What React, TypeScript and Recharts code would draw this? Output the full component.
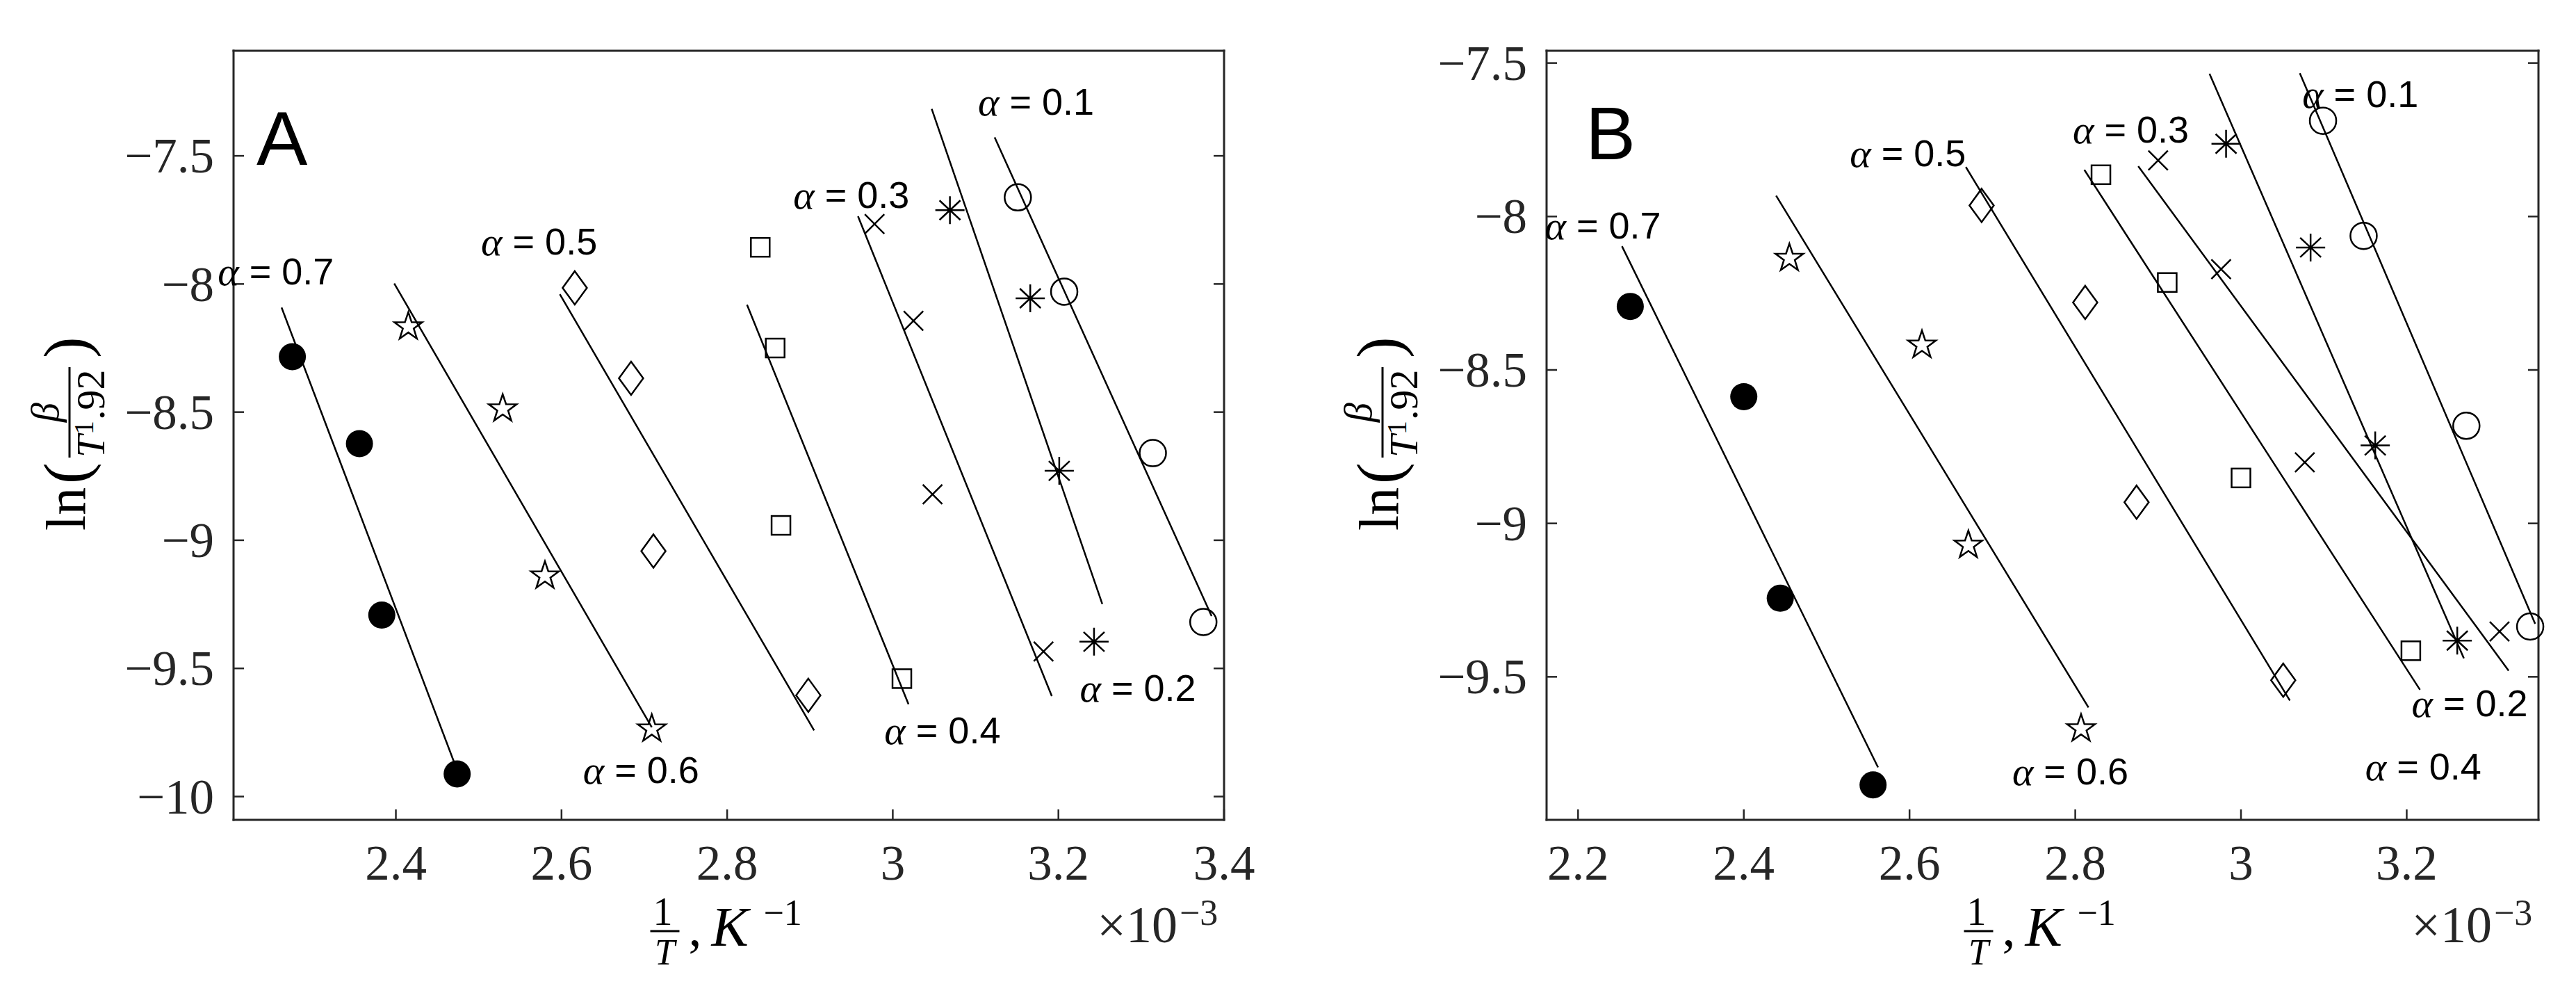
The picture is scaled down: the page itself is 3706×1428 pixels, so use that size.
import React from 'react';
import { ScatterChart, Scatter, XAxis, YAxis } from 'recharts';

const SERIF = '"Liberation Serif", "DejaVu Serif", serif';
const SANS = '"Liberation Sans", Arial, Helvetica, sans-serif';
const INK = '#000000';
const AXIS_INK = '#262626';

// one row per alpha level, same order everywhere
const alphaLabels = ['0.1', '0.2', '0.3', '0.4', '0.5', '0.6', '0.7'];
const markerKinds = ['circle', 'asterisk', 'cross', 'square', 'diamond', 'star', 'dot'];

// ---- panel A (x in 1e-3 K^-1) ----
const aXTicks = [2.4, 2.6, 2.8, 3, 3.2, 3.4];
const aYTicks = [-10, -9.5, -9, -8.5, -8, -7.5];
const aXDomain = [2.204, 3.4];
const aYDomain = [-10.091, -7.09];

const aPointX = [
  [3.151, 3.207, 3.314, 3.375],
  [3.069, 3.166, 3.201, 3.243],
  [2.978, 3.025, 3.048, 3.182],
  [2.84, 2.858, 2.865, 3.011],
  [2.616, 2.684, 2.711, 2.898],
  [2.415, 2.529, 2.58, 2.709],
  [2.275, 2.356, 2.383, 2.474],
];
const aPointY = [
  [-7.662, -8.03, -8.66, -9.319],
  [-7.712, -8.056, -8.729, -9.396],
  [-7.766, -8.144, -8.821, -9.434],
  [-7.857, -8.25, -8.942, -9.54],
  [-8.015, -8.368, -9.042, -9.605],
  [-8.167, -8.487, -9.139, -9.736],
  [-8.284, -8.623, -9.292, -9.912],
];
const aFitX = [
  [3.123, 3.385],
  [3.047, 3.253],
  [2.958, 3.192],
  [2.824, 3.019],
  [2.598, 2.905],
  [2.398, 2.709],
  [2.262, 2.471],
];
const aFitY = [
  [-7.428, -9.296],
  [-7.317, -9.249],
  [-7.736, -9.608],
  [-8.081, -9.64],
  [-8.04, -9.742],
  [-7.998, -9.73],
  [-8.092, -9.872],
];
const aLabelX = [3.173, 3.296, 2.95, 3.06, 2.573, 2.696, 2.255];
const aLabelY = [-7.289, -9.576, -7.653, -9.741, -7.834, -9.895, -7.95];

// ---- panel B ----
const bXTicks = [2.2, 2.4, 2.6, 2.8, 3, 3.2];
const bYTicks = [-9.5, -9, -8.5, -8, -7.5];
const bXDomain = [2.162, 3.359];
const bYDomain = [-9.966, -7.46];

const bPointX = [
  [3.099, 3.148, 3.272, 3.349],
  [2.982, 3.084, 3.162, 3.261],
  [2.9, 2.976, 3.077, 3.312],
  [2.831, 2.911, 3.0, 3.205],
  [2.687, 2.812, 2.874, 3.051],
  [2.455, 2.615, 2.671, 2.807],
  [2.263, 2.4, 2.444, 2.556],
];
const bPointY = [
  [-7.688, -8.063, -8.682, -9.336],
  [-7.763, -8.101, -8.746, -9.382],
  [-7.817, -8.172, -8.801, -9.352],
  [-7.864, -8.215, -8.852, -9.415],
  [-7.964, -8.28, -8.931, -9.511],
  [-8.136, -8.419, -9.071, -9.669],
  [-8.293, -8.587, -9.244, -9.852],
];
const bFitX = [
  [3.071, 3.355],
  [2.962, 3.269],
  [2.876, 3.323],
  [2.811, 3.216],
  [2.668, 3.059],
  [2.439, 2.816],
  [2.253, 2.562],
];
const bFitY = [
  [-7.533, -9.327],
  [-7.535, -9.44],
  [-7.836, -9.48],
  [-7.848, -9.542],
  [-7.839, -9.577],
  [-7.932, -9.6],
  [-8.097, -9.795],
];
const bLabelX = [3.144, 3.276, 2.867, 3.22, 2.598, 2.794, 2.23];
const bLabelY = [-7.601, -9.585, -7.715, -9.791, -7.793, -9.808, -8.029];

const zip = (xs: number[], ys: number[]) => xs.map((x, i) => ({ x, y: ys[i] }));
const fmt = (v: number) => (v < 0 ? '\u2212' + String(Math.abs(v)) : String(v));

function Marker({ cx, cy, kind }: { cx: number; cy: number; kind: string }) {
  const s = { fill: 'none', stroke: INK, strokeWidth: 2.5 };
  if (kind === 'dot') return <circle cx={cx} cy={cy} r={19.5} fill={INK} />;
  if (kind === 'circle') return <circle cx={cx} cy={cy} r={19} {...s} />;
  if (kind === 'square') return <rect x={cx - 13.5} y={cy - 13.5} width={27} height={27} {...s} />;
  if (kind === 'diamond')
    return <polygon points={`${cx},${cy - 24} ${cx + 17.5},${cy} ${cx},${cy + 24} ${cx - 17.5},${cy}`} {...s} />;
  if (kind === 'cross')
    return <path d={`M${cx - 14},${cy - 14}L${cx + 14},${cy + 14}M${cx - 14},${cy + 14}L${cx + 14},${cy - 14}`} {...s} />;
  if (kind === 'asterisk')
    return (
      <path
        d={`M${cx - 21},${cy}L${cx + 21},${cy}M${cx},${cy - 20}L${cx},${cy + 20}M${cx - 15},${cy - 14}L${cx + 15},${cy + 14}M${cx - 15},${cy + 14}L${cx + 15},${cy - 14}`}
        {...s}
      />
    );
  // pentagram
  const pts: string[] = [];
  for (let i = 0; i < 10; i++) {
    const r = i % 2 === 0 ? 21 : 8.2;
    const a = -Math.PI / 2 + (i * Math.PI) / 5;
    pts.push(`${cx + r * Math.cos(a)},${cy + r * Math.sin(a)}`);
  }
  return <polygon points={pts.join(' ')} {...s} />;
}

function AlphaText({ cx, cy, value }: { cx: number; cy: number; value: string }) {
  return (
    <text x={cx} y={cy} textAnchor="middle" dominantBaseline="central" fill={INK}>
      <tspan fontFamily={SERIF} fontStyle="italic" fontSize={58}>α</tspan>
      <tspan fontFamily={SANS} fontSize={54}>{' = ' + value}</tspan>
    </text>
  );
}

// serif tick labels (LaTeX look)
const XTick = (t: any) => (
  <text x={t.x} y={t.y} dy="0.71em" textAnchor="middle" fontFamily={SERIF} fontSize={71} fill={AXIS_INK}>
    {fmt(t.payload.value)}
  </text>
);
const YTick = (t: any) => (
  <text x={t.x} y={t.y} dy="0.34em" textAnchor="end" fontFamily={SERIF} fontSize={71} fill={AXIS_INK}>
    {fmt(t.payload.value)}
  </text>
);
const NoLabel = () => <g />;

// ln( beta / T^1.92 ), rotated
function YTitle({ cx, cy }: { cx: number; cy: number }) {
  return (
    <g transform={`translate(${cx},${cy}) rotate(-90)`} fill={INK} fontFamily={SERIF}>
      <text x={-135} y={0} fontSize={80}>ln</text>
      <text x={-68} y={4} fontSize={92}>(</text>
      <text x={35} y={-38} fontSize={56} fontStyle="italic" textAnchor="middle">β</text>
      <line x1={-30} x2={100} y1={-22} y2={-22} stroke={INK} strokeWidth={3} />
      <text x={-30} y={28} fontSize={58} fontStyle="italic">T</text>
      <text x={3} y={12} fontSize={40}>1</text>
      <text x={24} y={28} fontSize={58}>.92</text>
      <text x={113} y={4} fontSize={92}>)</text>
    </g>
  );
}

// 1/T, K^-1  and the x10^-3 multiplier
function XTitle({ c, b, r }: { c: number; b: number; r: number }) {
  return (
    <g fill={INK} fontFamily={SERIF}>
      <text x={c - 95} y={b + 151} fontSize={56} textAnchor="middle">1</text>
      <line x1={c - 113} x2={c - 71} y1={b + 160} y2={b + 160} stroke={INK} strokeWidth={3} />
      <text x={c - 92} y={b + 208} fontSize={52} fontStyle="italic" textAnchor="middle">T</text>
      <text x={c - 58} y={b + 181} fontSize={76}>,</text>
      <text x={c - 25} y={b + 181} fontSize={80} fontStyle="italic">K</text>
      <text x={c + 50} y={b + 151} fontSize={52}>{'\u22121'}</text>
      <text x={r - 67} y={b + 176} fontSize={74} textAnchor="end" fill={AXIS_INK}>×10</text>
      <text x={r - 64} y={b + 151} fontSize={52} fill={AXIS_INK}>{'\u22123'}</text>
    </g>
  );
}

type PanelProps = {
  letter: string;
  letterDx: number;
  letterDy: number;
  letterSize: number;
  width: number;
  plotLeft: number;
  plotRight: number;
  xDomain: number[];
  yDomain: number[];
  xTicks: number[];
  yTicks: number[];
  pointX: number[][];
  pointY: number[][];
  fitX: number[][];
  fitY: number[][];
  labelX: number[];
  labelY: number[];
};

const HEIGHT = 1428;
const PLOT_TOP = 73;
const PLOT_BOTTOM = 1179;
const TICK = -15;

const Panel: React.FC<PanelProps> = (p) => {
  const axisLine = { stroke: AXIS_INK, strokeWidth: 3, strokeLinecap: 'square' as const };
  const tickLine = { stroke: AXIS_INK, strokeWidth: 2.5 };
  const center = (p.plotLeft + p.plotRight) / 2;
  const midY = (PLOT_TOP + PLOT_BOTTOM) / 2 + 2;

  return (
    <ScatterChart
      width={p.width}
      height={HEIGHT}
      margin={{ top: PLOT_TOP - 1, right: p.width - p.plotRight - 1, bottom: 0, left: 0 }}
    >
      <XAxis
        xAxisId="b"
        type="number"
        dataKey="x"
        orientation="bottom"
        domain={p.xDomain}
        ticks={p.xTicks}
        interval={0}
        height={HEIGHT - PLOT_BOTTOM}
        tickSize={TICK}
        tickMargin={51}
        tick={XTick}
        axisLine={axisLine}
        tickLine={tickLine}
        label={{ content: () => <XTitle c={center} b={PLOT_BOTTOM} r={p.plotRight} /> }}
      />
      {/* mirrored top axis: frame line + inward ticks */}
      <XAxis
        xAxisId="t"
        type="number"
        orientation="top"
        domain={p.xDomain}
        allowDataOverflow
        ticks={p.xTicks}
        interval={0}
        height={1}
        tickSize={TICK}
        tick={NoLabel}
        axisLine={axisLine}
        tickLine={tickLine}
        label={{
          content: () => (
            <text
              x={p.plotLeft + p.letterDx}
              y={PLOT_TOP + p.letterDy}
              fontFamily={SANS}
              fontSize={p.letterSize}
              fill={INK}
            >
              {p.letter}
            </text>
          ),
        }}
      />
      <YAxis
        yAxisId="l"
        type="number"
        dataKey="y"
        domain={p.yDomain}
        ticks={p.yTicks}
        interval={0}
        width={p.plotLeft}
        tickSize={TICK}
        tickMargin={43}
        tick={YTick}
        axisLine={axisLine}
        tickLine={tickLine}
        label={{ content: () => <YTitle cx={p.plotLeft - 214} cy={midY} /> }}
      />
      {/* mirrored right axis */}
      <YAxis
        yAxisId="r"
        type="number"
        orientation="right"
        domain={p.yDomain}
        allowDataOverflow
        ticks={p.yTicks}
        interval={0}
        width={1}
        tickSize={TICK}
        tick={NoLabel}
        axisLine={axisLine}
        tickLine={tickLine}
      />

      {p.fitX.map((fx, i) => (
        <Scatter
          key={'fit' + i}
          xAxisId="b"
          yAxisId="l"
          data={zip(fx, p.fitY[i])}
          line={{ stroke: INK, strokeWidth: 2.5 }}
          lineType="joint"
          shape={() => <g />}
          isAnimationActive={false}
        />
      ))}

      {p.pointX.map((px, i) => (
        <Scatter
          key={'pts' + i}
          xAxisId="b"
          yAxisId="l"
          data={zip(px, p.pointY[i])}
          shape={(s: any) => <Marker cx={s.cx} cy={s.cy} kind={markerKinds[i]} />}
          isAnimationActive={false}
        />
      ))}

      {alphaLabels.map((a, i) => (
        <Scatter
          key={'lbl' + i}
          xAxisId="b"
          yAxisId="l"
          data={[{ x: p.labelX[i], y: p.labelY[i] }]}
          shape={(s: any) => <AlphaText cx={s.cx} cy={s.cy} value={a} />}
          isAnimationActive={false}
        />
      ))}
    </ScatterChart>
  );
};

export default function App() {
  return (
    <div style={{ position: 'absolute', left: 0, top: 0, width: 3706, height: HEIGHT, background: '#ffffff' }}>
      <div style={{ position: 'absolute', left: 0, top: 0 }}>
        <Panel
          letter="A"
          letterDx={33}
          letterDy={164}
          letterSize={110}
          width={1853}
          plotLeft={336}
          plotRight={1761}
          xDomain={aXDomain}
          yDomain={aYDomain}
          xTicks={aXTicks}
          yTicks={aYTicks}
          pointX={aPointX}
          pointY={aPointY}
          fitX={aFitX}
          fitY={aFitY}
          labelX={aLabelX}
          labelY={aLabelY}
        />
      </div>
      <div style={{ position: 'absolute', left: 1853, top: 0 }}>
        <Panel
          letter="B"
          letterDx={56}
          letterDy={156}
          letterSize={108}
          width={1853}
          plotLeft={372}
          plotRight={1799}
          xDomain={bXDomain}
          yDomain={bYDomain}
          xTicks={bXTicks}
          yTicks={bYTicks}
          pointX={bPointX}
          pointY={bPointY}
          fitX={bFitX}
          fitY={bFitY}
          labelX={bLabelX}
          labelY={bLabelY}
        />
      </div>
    </div>
  );
}
